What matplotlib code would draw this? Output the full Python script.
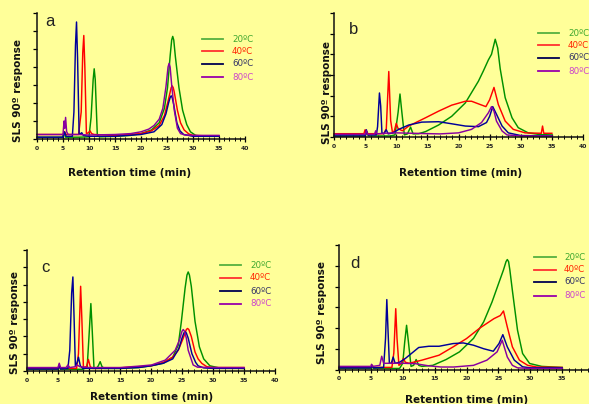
import matplotlib
matplotlib.use("Agg")
import matplotlib.pyplot as plt
from matplotlib.lines import Line2D
from matplotlib.ticker import MultipleLocator

# ---------------- data (retention time in min, SLS 90° response, arb. units) ----------------
temps = ["20ºC", "40ºC", "60ºC", "80ºC"]
panel_labels = ["a", "b", "c", "d"]
panel_ymax = [7, 6, 7, 6]
x_ticks = [0, 5, 10, 15, 20, 25, 30, 35, 40]

# panel a
a_t20 = [0, 4.9, 5.2, 5.5, 8, 10.0, 10.4, 10.8, 11.0, 11.2, 11.6, 12, 15, 18, 20, 22, 23.5, 24.5, 25.1, 25.6, 25.9, 26.1, 26.3, 26.6, 27.3, 28, 28.8, 29.5, 30.5, 32, 35]
a_v20 = [0.1, 0.1, 0.35, 0.1, 0.1, 0.12, 1.2, 3.3, 3.9, 3.3, 0.2, 0.12, 0.15, 0.2, 0.3, 0.5, 0.9, 1.7, 2.85, 4.6, 5.5, 5.7, 5.5, 4.6, 2.85, 1.6, 0.8, 0.4, 0.2, 0.15, 0.15]
a_t40 = [0, 5.0, 5.3, 5.6, 8.0, 8.5, 8.8, 9.0, 9.2, 9.5, 9.9, 10.2, 10.5, 11, 15, 20, 22, 23.5, 24.5, 25.2, 25.6, 25.8, 26.0, 26.2, 26.4, 27.0, 27.6, 28.3, 29.2, 30, 32, 35]
a_v40 = [0.25, 0.25, 0.4, 0.25, 0.25, 1.5, 4.8, 5.75, 4.0, 0.3, 0.35, 0.45, 0.3, 0.25, 0.2, 0.3, 0.45, 0.75, 1.3, 2.1, 2.6, 2.85, 2.95, 2.85, 2.6, 1.6, 0.9, 0.5, 0.28, 0.2, 0.18, 0.18]
a_t60 = [0, 5.0, 5.3, 5.6, 6.8, 7.1, 7.4, 7.6, 7.8, 8.1, 8.4, 8.6, 8.9, 10, 15, 20, 22.5, 24, 24.8, 25.3, 25.6, 25.8, 26.0, 26.3, 26.9, 27.5, 28.2, 30, 35]
a_v60 = [0.1, 0.1, 0.4, 0.15, 0.15, 1.5, 5.2, 6.5, 4.5, 0.3, 0.3, 0.35, 0.2, 0.15, 0.15, 0.25, 0.4, 0.8, 1.4, 2.0, 2.3, 2.4, 2.3, 1.9, 0.9, 0.45, 0.25, 0.15, 0.15]
a_t80 = [0, 5.0, 5.2, 5.35, 5.5, 5.7, 6.0, 8, 10, 15, 18, 20, 21.5, 22.5, 23.5, 24.2, 24.8, 25.2, 25.4, 25.6, 25.9, 26.4, 27.0, 27.6, 28.5, 30, 35]
a_v80 = [0.25, 0.25, 1.0, 0.6, 1.2, 0.4, 0.25, 0.25, 0.22, 0.25, 0.3, 0.4, 0.55, 0.75, 1.1, 1.7, 2.9, 4.0, 4.2, 4.0, 3.0, 1.6, 0.6, 0.3, 0.22, 0.2, 0.2]

# panel b
b_t20 = [0, 5.0, 5.3, 5.6, 9.0, 9.8, 10.3, 10.6, 10.9, 11.3, 11.8, 12.3, 12.7, 13.6, 14.7, 16.8, 18.9, 21.1, 23.2, 24.0, 24.8, 25.3, 25.9, 26.3, 26.7, 27.5, 28.6, 29.6, 31.2, 33, 35]
b_v20 = [0.05, 0.05, 0.25, 0.05, 0.05, 0.1, 1.2, 2.08, 1.2, 0.1, 0.15, 0.48, 0.15, 0.16, 0.26, 0.58, 1.0, 1.65, 2.7, 3.2, 3.73, 4.0, 4.73, 4.3, 3.3, 1.9, 0.93, 0.45, 0.2, 0.12, 0.1]
b_t40 = [0, 4.8, 5.0, 5.3, 8.0, 8.4, 8.8, 9.1, 9.4, 9.7, 10.0, 10.3, 11.0, 12.0, 14.7, 16.8, 18.9, 21.1, 22.1, 23.5, 24.4, 25.0, 25.7, 26.4, 27.5, 28.8, 30.7, 33.3, 33.5, 33.7, 35]
b_v40 = [0.16, 0.16, 0.35, 0.16, 0.16, 0.4, 3.17, 0.8, 0.2, 0.3, 0.66, 0.4, 0.3, 0.53, 0.93, 1.25, 1.54, 1.73, 1.73, 1.57, 1.47, 1.8, 2.4, 1.57, 0.77, 0.37, 0.2, 0.18, 0.53, 0.18, 0.18]
b_t60 = [0, 5.0, 5.2, 5.4, 6.8, 7.0, 7.3, 7.5, 7.7, 8.0, 8.4, 8.7, 9.5, 10.4, 12.0, 14.1, 16.8, 18.9, 21.1, 23.2, 24.5, 25.0, 25.5, 26.1, 27.0, 28.0, 30, 35]
b_v60 = [0.05, 0.05, 0.35, 0.1, 0.1, 0.5, 2.13, 1.5, 0.2, 0.15, 0.35, 0.15, 0.2, 0.37, 0.58, 0.72, 0.74, 0.64, 0.53, 0.5, 0.7, 1.0, 1.47, 1.1, 0.53, 0.2, 0.07, 0.05]
b_t80 = [0, 5.0, 5.2, 5.4, 6.5, 6.7, 6.9, 8, 10, 14, 17, 20, 22.1, 23.7, 24.8, 25.3, 25.7, 26.1, 27.0, 27.8, 30, 35]
b_v80 = [0.13, 0.13, 0.3, 0.13, 0.13, 0.3, 0.15, 0.18, 0.2, 0.17, 0.15, 0.2, 0.37, 0.7, 1.17, 1.47, 1.25, 0.77, 0.29, 0.1, 0.05, 0.05]

# panel c
c_t20 = [0, 5.0, 5.2, 5.4, 9.0, 9.7, 10.0, 10.3, 10.5, 10.8, 11.2, 11.5, 11.8, 12.1, 12.5, 15, 18, 20, 22, 23.5, 24.4, 24.9, 25.5, 25.8, 26.0, 26.2, 26.5, 27.1, 27.8, 28.5, 29.5, 31, 35]
c_v20 = [0.1, 0.1, 0.3, 0.1, 0.1, 0.2, 2.0, 3.9, 2.5, 0.2, 0.15, 0.3, 0.54, 0.25, 0.15, 0.15, 0.2, 0.3, 0.45, 0.8, 1.5, 2.87, 4.8, 5.55, 5.73, 5.55, 4.9, 2.87, 1.4, 0.7, 0.3, 0.18, 0.15]
c_t40 = [0, 5.0, 5.2, 5.4, 8.0, 8.3, 8.65, 8.85, 9.1, 9.6, 9.9, 10.2, 10.6, 12, 15, 18, 20, 22, 23.5, 24.4, 25.2, 25.7, 25.9, 26.1, 26.5, 27.1, 27.6, 28.2, 29, 30, 35]
c_v40 = [0.15, 0.15, 0.3, 0.15, 0.15, 1.0, 4.9, 3.0, 0.2, 0.25, 0.67, 0.25, 0.15, 0.15, 0.18, 0.25, 0.3, 0.5, 0.8, 1.2, 1.9, 2.4, 2.46, 2.4, 2.0, 1.1, 0.7, 0.44, 0.25, 0.2, 0.2]
c_t60 = [0, 5.0, 5.2, 5.4, 6.6, 6.9, 7.2, 7.4, 7.6, 7.8, 8.1, 8.3, 8.6, 9.0, 12, 15, 18, 20, 22, 23.5, 24.5, 25.0, 25.3, 25.5, 25.7, 26.0, 26.6, 27.2, 27.6, 28.5, 30, 35]
c_v60 = [0.12, 0.12, 0.35, 0.12, 0.15, 1.2, 4.5, 5.44, 3.0, 0.3, 0.5, 0.8, 0.3, 0.15, 0.15, 0.15, 0.2, 0.3, 0.45, 0.7, 1.3, 1.9, 2.2, 2.27, 2.2, 1.9, 1.0, 0.5, 0.3, 0.18, 0.15, 0.15]
c_t80 = [0, 5.0, 5.2, 5.4, 6.3, 6.6, 6.9, 7.8, 8.1, 8.5, 10, 12, 15, 18, 20.1, 22.3, 23.9, 24.6, 25.0, 25.2, 25.4, 25.7, 26.0, 26.8, 27.5, 30, 35]
c_v80 = [0.2, 0.2, 0.45, 0.2, 0.2, 0.35, 0.2, 0.25, 0.35, 0.25, 0.2, 0.2, 0.2, 0.28, 0.35, 0.63, 1.2, 1.8, 2.3, 2.4, 2.3, 1.9, 1.2, 0.35, 0.22, 0.2, 0.2]

# panel d
d_t20 = [0, 5.0, 5.2, 5.4, 9.5, 10.0, 10.3, 10.6, 10.9, 11.3, 11.7, 12.1, 12.5, 13, 14.7, 16.8, 18.9, 21.1, 22.7, 24.0, 25.1, 25.8, 26.2, 26.4, 26.6, 26.8, 27.2, 28.0, 28.8, 29.9, 31.8, 35]
d_v20 = [0.05, 0.05, 0.15, 0.05, 0.05, 0.3, 1.3, 2.13, 1.3, 0.15, 0.2, 0.48, 0.2, 0.15, 0.2, 0.48, 0.85, 1.5, 2.3, 3.25, 4.2, 4.8, 5.2, 5.3, 5.2, 4.8, 3.8, 1.9, 0.77, 0.29, 0.15, 0.1]
d_t40 = [0, 5.0, 5.2, 5.4, 8.3, 8.6, 8.9, 9.1, 9.4, 9.8, 10.1, 10.4, 11.0, 13.0, 15.7, 17.9, 20.0, 22.1, 24.3, 25.3, 25.8, 26.4, 27.2, 28.3, 29.6, 31, 35]
d_v40 = [0.1, 0.1, 0.2, 0.1, 0.1, 0.8, 2.93, 1.5, 0.2, 0.3, 0.53, 0.35, 0.3, 0.45, 0.69, 1.09, 1.49, 2.0, 2.45, 2.6, 2.82, 2.05, 1.09, 0.45, 0.2, 0.12, 0.1]
d_t60 = [0, 5.0, 5.2, 5.4, 7.0, 7.3, 7.5, 7.7, 7.9, 8.2, 8.5, 8.8, 9.5, 10.4, 12.5, 14.1, 15.7, 17.9, 19.5, 21.1, 22.7, 24.2, 25.1, 25.7, 26.4, 27.5, 28.8, 30, 35]
d_v60 = [0.08, 0.08, 0.2, 0.08, 0.1, 1.5, 3.37, 1.8, 0.3, 0.3, 0.6, 0.3, 0.35, 0.53, 1.06, 1.12, 1.12, 1.25, 1.28, 1.17, 1.0, 0.88, 1.25, 1.68, 1.09, 0.45, 0.13, 0.08, 0.08]
d_t80 = [0, 5.0, 5.1, 5.3, 6.4, 6.7, 7.0, 8, 10, 12, 14, 16, 18, 21.1, 23.2, 24.8, 25.6, 26.4, 27.2, 28, 30, 35]
d_v80 = [0.15, 0.15, 0.25, 0.15, 0.2, 0.64, 0.3, 0.3, 0.3, 0.28, 0.18, 0.12, 0.12, 0.2, 0.45, 0.85, 1.41, 0.6, 0.2, 0.08, 0.05, 0.05]

# ---------------- styling ----------------
BG = "#FFFF99"
line_colors = ["#009000", "#FF0000", "#000099", "#8800A0"]
leg_line_colors = ["#55B040", "#FF3030", "#000050", "#9900AA"]
leg_text_colors = ["#40A830", "#FF2200", "#333366", "#CC44CC"]

W, H = 589, 404
fig = plt.figure(figsize=(W / 100, H / 100), dpi=100, facecolor=BG)

def fx(px):
    return px / W

def fy(py):
    return 1 - py / H

# axes boxes in pixels: left, right(40 min), top(ymax), bottom(0)
boxes = [(37, 245, 13, 139), (334, 583, 13, 137), (27, 275, 250, 371), (339, 594, 245, 369.5)]
panel_tag_pos = [(50, 22), (354, 30), (45, 268), (355, 263)]
xlabel_pos = [(130, 173), (461, 173), (152, 397), (467, 400)]
ylabel_pos = [(18, 90), (327, 92), (15, 322), (322, 313)]
legend_geo = [  # line x0, x1, text x, row ys
    (202, 223, 232, [39, 51, 63.5, 77]),
    (538, 559, 568, [33, 45, 58, 71]),
    (220, 241, 250, [265, 278, 291, 304]),
    (534, 556, 564, [257, 270, 282, 296]),
]

series = [
    [(a_t20, a_v20), (a_t40, a_v40), (a_t60, a_v60), (a_t80, a_v80)],
    [(b_t20, b_v20), (b_t40, b_v40), (b_t60, b_v60), (b_t80, b_v80)],
    [(c_t20, c_v20), (c_t40, c_v40), (c_t60, c_v60), (c_t80, c_v80)],
    [(d_t20, d_v20), (d_t40, d_v40), (d_t60, d_v60), (d_t80, d_v80)],
]

for i in range(4):
    l, r, t, b = boxes[i]
    ax = fig.add_axes([fx(l), fy(b), fx(r - l), (b - t) / H])
    ax.set_facecolor("none")
    for (tt, vv), col in zip(series[i], line_colors):
        ax.plot(tt, vv, color=col, lw=1.05, clip_on=False, solid_joinstyle="round")
    ax.set_xlim(0, 40)
    ax.set_ylim(0, panel_ymax[i])
    for s in ("top", "right"):
        ax.spines[s].set_visible(False)
    for s in ("left", "bottom"):
        ax.spines[s].set_linewidth(1.1)
        ax.spines[s].set_color("#111111")
    ax.set_xticks(x_ticks)
    # in panel d the 40 label falls beyond the picture edge (as in the original)
    labels = [str(v) for v in x_ticks]
    if i == 3:
        labels[-1] = ""
    ax.set_xticklabels(labels, fontsize=4.3, fontweight="bold", color="#222222")
    ax.xaxis.set_minor_locator(MultipleLocator(1))
    ax.tick_params(axis="x", which="major", direction="inout", length=4, width=0.9, pad=3)
    ax.tick_params(axis="x", which="minor", direction="inout", length=3, width=0.7)
    ax.set_yticks(range(panel_ymax[i] + 1))
    ax.set_yticklabels([])
    ax.tick_params(axis="y", which="major", direction="out", length=3, width=0.9)

    tx, ty = panel_tag_pos[i]
    fig.text(fx(tx), fy(ty), panel_labels[i], fontsize=12, family="Liberation Sans",
             color="#222222", ha="center", va="center")
    xx, xy = xlabel_pos[i]
    fig.text(fx(xx), fy(xy), "Retention time (min)", fontsize=7.5, fontweight="bold",
             color="#111111", ha="center", va="center")
    yx, yy = ylabel_pos[i]
    fig.text(fx(yx), fy(yy), "SLS 90º response", fontsize=7.5, fontweight="bold",
             color="#111111", ha="center", va="center", rotation=90)

    x0, x1, txx, rows = legend_geo[i]
    for k in range(4):
        fig.add_artist(Line2D([fx(x0), fx(x1)], [fy(rows[k]), fy(rows[k])],
                              transform=fig.transFigure, color=leg_line_colors[k], lw=1.3))
        fig.text(fx(txx), fy(rows[k]), temps[k], fontsize=6.3, color=leg_text_colors[k],
                 ha="left", va="center")

fig.savefig("out.png", dpi=100, facecolor=BG)
